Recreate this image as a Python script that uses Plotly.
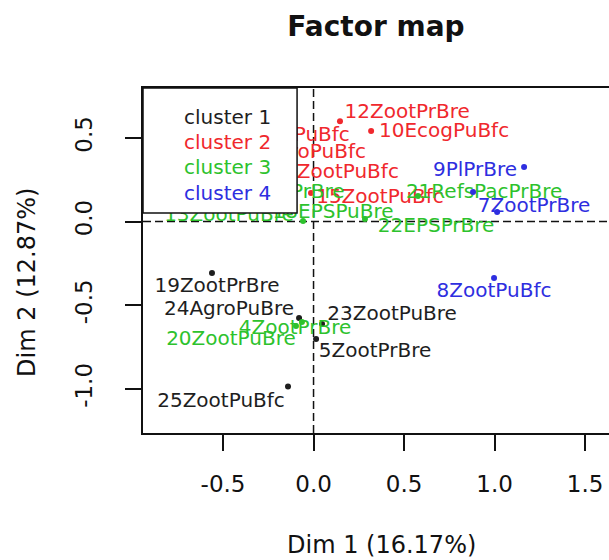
import plotly.graph_objects as go

# ---- data ----
labels = ["19ZootPrBre", "24AgroPuBre", "23ZootPuBre", "5ZootPrBre", "25ZootPuBfc",
          "12ZootPrBre", "10EcogPuBfc", "14ZootPuBfc", "11AgroPuBfc", "16ZootPuBfc", "15ZootPuBfc",
          "17EPSPrBre", "18EPSPuBre", "22EPSPrBre", "21RefsPacPrBre", "4ZootPrBre", "20ZootPuBre", "13ZootPuBre",
          "9PlPrBre", "7ZootPrBre", "", "8ZootPuBfc"]
dim1 = [-0.561, -0.080, 0.047, 0.014, -0.141,
        0.146, 0.318, -0.351, -0.240, -0.185, -0.014,
        -0.406, -0.058, 0.284, 0.577, -0.064, -0.097, -0.300,
        1.163, 1.014, 0.881, 0.997]
dim2 = [-0.308, -0.577, -0.613, -0.702, -0.986,
        0.600, 0.541, 0.558, 0.457, 0.368, 0.170,
        0.218, 0.003, 0.015, 0.152, -0.601, -0.625, 0.100,
        0.326, 0.057, 0.176, -0.338]
cluster = [1, 1, 1, 1, 1,
           2, 2, 2, 2, 2, 2,
           3, 3, 3, 3, 3, 3, 3,
           4, 4, 4, 4]
# label anchor positions (repelled from the points, as in the reference)
lab_x = [-0.533, -0.467, 0.434, 0.340, -0.511,
         0.517, 0.721, -0.152, -0.064, 0.119, 0.367,
         -0.150, 0.108, 0.677, 0.942, -0.102, -0.456, -0.467,
         0.892, 1.218, 0.881, 0.997]
lab_y = [-0.392, -0.529, -0.559, -0.780, -1.079,
         0.648, 0.535, 0.511, 0.409, 0.290, 0.140,
         0.170, 0.051, -0.033, 0.170, -0.643, -0.708, 0.033,
         0.302, 0.087, 0.176, -0.421]

cluster_names = ["cluster 1", "cluster 2", "cluster 3", "cluster 4"]
x_ticks = [-0.5, 0.0, 0.5, 1.0, 1.5]
x_ticktext = ["-0.5", "0.0", "0.5", "1.0", "1.5"]
y_ticks = [-1.0, -0.5, 0.0, 0.5]
y_ticktext = ["-1.0", "-0.5", "0.0", "0.5"]

colors = {1: "#1e1e1e", 2: "#f0282d", 3: "#2dc22d", 4: "#2e2ee0"}
FONT = "DejaVu Sans"

X_RANGE = [-0.942, 1.632]
Y_RANGE = [-1.264, 0.798]

fig = go.Figure()

for c in [1, 2, 3, 4]:
    idx = [i for i, k in enumerate(cluster) if k == c]
    fig.add_trace(go.Scatter(
        x=[dim1[i] for i in idx], y=[dim2[i] for i in idx],
        mode="markers", marker=dict(size=6, color=colors[c]),
        showlegend=False, hoverinfo="skip"))
    fig.add_trace(go.Scatter(
        x=[lab_x[i] for i in idx], y=[lab_y[i] for i in idx],
        text=[labels[i] for i in idx], mode="text",
        textposition="middle center",
        textfont=dict(family=FONT, size=20, color=colors[c]),
        showlegend=False, hoverinfo="skip"))

shapes = [
    dict(type="line", xref="x", yref="paper", x0=0, x1=0, y0=0, y1=1,
         line=dict(color="#111", width=1.5, dash="8px,4px"), layer="below"),
    dict(type="line", xref="paper", yref="y", x0=0, x1=1, y0=0, y1=0,
         line=dict(color="#111", width=1.5, dash="8px,4px"), layer="below"),
    # legend box
    dict(type="rect", xref="x", yref="y", x0=X_RANGE[0], x1=-0.091, y0=0.051, y1=Y_RANGE[1],
         fillcolor="white", line=dict(color="#111", width=1.5), layer="above"),
]

annotations = []
leg_y = [0.625, 0.475, 0.326, 0.170]
for i, name in enumerate(cluster_names):
    annotations.append(dict(xref="x", yref="y", x=-0.725, y=leg_y[i], text=name,
                            xanchor="left", yanchor="middle", showarrow=False,
                            font=dict(family=FONT, size=20, color=colors[i + 1])))
annotations.append(dict(xref="paper", yref="paper", x=0.511, y=0, yshift=-112,
                        text="Dim 1 (16.17%)", showarrow=False, xanchor="center", yanchor="middle",
                        font=dict(family=FONT, size=24, color="#111")))
annotations.append(dict(xref="paper", yref="paper", x=0, xshift=-116, y=0.435,
                        text="Dim 2 (12.87%)", showarrow=False, textangle=-90,
                        xanchor="center", yanchor="middle",
                        font=dict(family=FONT, size=24, color="#111")))

fig.update_layout(
    width=609, height=560,
    margin=dict(l=143, r=0, t=88, b=127),
    paper_bgcolor="white", plot_bgcolor="white",
    title=dict(text="<b>Factor map</b>", x=0.5, xref="paper", xanchor="center",
               y=1 - 26 / 560, yref="container", yanchor="middle",
               font=dict(family=FONT, size=28, color="#111")),
    shapes=shapes, annotations=annotations,
    showlegend=False,
)
fig.update_xaxes(range=X_RANGE, showgrid=False, zeroline=False,
                 showline=True, linecolor="#111", linewidth=1.5, mirror=True,
                 ticks="outside", ticklen=16, tickwidth=1.5, tickcolor="#111",
                 tickvals=x_ticks, ticktext=x_ticktext, ticklabelstandoff=14,
                 tickfont=dict(family=FONT, size=23, color="#111"))
fig.update_yaxes(range=Y_RANGE, showgrid=False, zeroline=False,
                 showline=True, linecolor="#111", linewidth=1.5, mirror=False,
                 ticks="outside", ticklen=16, tickwidth=1.5, tickcolor="#111",
                 tickvals=y_ticks, ticktext=y_ticktext, tickangle=-90, ticklabelstandoff=24,
                 tickfont=dict(family=FONT, size=23, color="#111"))

fig.write_html("out.html")
